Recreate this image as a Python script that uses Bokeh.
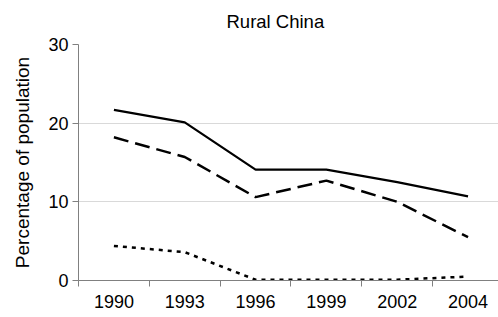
from bokeh.plotting import figure
from bokeh.models import Range1d, FixedTicker, Title
from bokeh.embed import file_html
from bokeh.resources import INLINE

years = ["1990", "1993", "1996", "1999", "2002", "2004"]
series_solid = [21.7, 20.1, 14.1, 14.1, 12.5, 10.7]
series_dashed = [18.2, 15.7, 10.6, 12.7, 10.0, 5.5]
series_dotted = [4.4, 3.6, 0.1, 0.1, 0.1, 0.5]
y_ticks = [0, 10, 20, 30]
title_text = "Rural China"

xs = [i + 0.5 for i in range(len(years))]

p = figure(width=498, height=317, output_backend="svg", toolbar_location=None,
           x_range=Range1d(0, 5.93), y_range=Range1d(0, 30),
           min_border_left=78, min_border_right=0, min_border_top=44, min_border_bottom=37)
p.title = None
spacer = Title(text=" ", text_font_size="5px", standoff=0)
main_title = Title(text=title_text, align="left", offset=148,
                   text_font="Liberation Sans", text_font_size="18.5px",
                   text_font_style="normal", text_color="black")
p.add_layout(spacer, "above")
p.add_layout(main_title, "above")
p.outline_line_color = None

p.line(xs, series_solid, line_color="black", line_width=2.2)
p.line(xs, series_dashed, line_color="black", line_width=2.5, line_dash="15 7")
p.line(xs, series_dotted, line_color="black", line_width=2.5, line_dash="4 5")

p.xaxis.ticker = FixedTicker(ticks=xs, minor_ticks=list(range(len(years))))
p.xaxis.major_label_overrides = {x: y for x, y in zip(xs, years)}
p.xaxis.major_tick_line_color = None
p.xaxis.minor_tick_line_color = "#808080"
p.xaxis.minor_tick_out = 6
p.xaxis.minor_tick_in = 0
p.xaxis.axis_line_color = "#808080"
p.xaxis.major_label_text_font = "Liberation Sans"
p.xaxis.major_label_text_font_size = "18px"
p.xaxis.major_label_text_color = "black"
p.xaxis.major_label_standoff = 8

p.yaxis.ticker = FixedTicker(ticks=y_ticks)
p.yaxis.minor_tick_line_color = None
p.yaxis.major_tick_line_color = "#808080"
p.yaxis.major_tick_out = 6
p.yaxis.major_tick_in = 0
p.yaxis.axis_line_color = "#808080"
p.yaxis.major_label_text_font = "Liberation Sans"
p.yaxis.major_label_text_font_size = "18px"
p.yaxis.major_label_text_color = "black"
p.yaxis.major_label_standoff = 4
p.yaxis.axis_label = "Percentage of population"
p.yaxis.axis_label_text_font = "Liberation Sans"
p.yaxis.axis_label_text_font_size = "19px"
p.yaxis.axis_label_text_font_style = "normal"
p.yaxis.axis_label_text_color = "black"
p.yaxis.axis_label_standoff = 12

p.xgrid.grid_line_color = None
p.ygrid.ticker = FixedTicker(ticks=y_ticks)
p.ygrid.grid_line_color = "#d9d9d9"

open("out.html", "w").write(file_html(p, INLINE))
